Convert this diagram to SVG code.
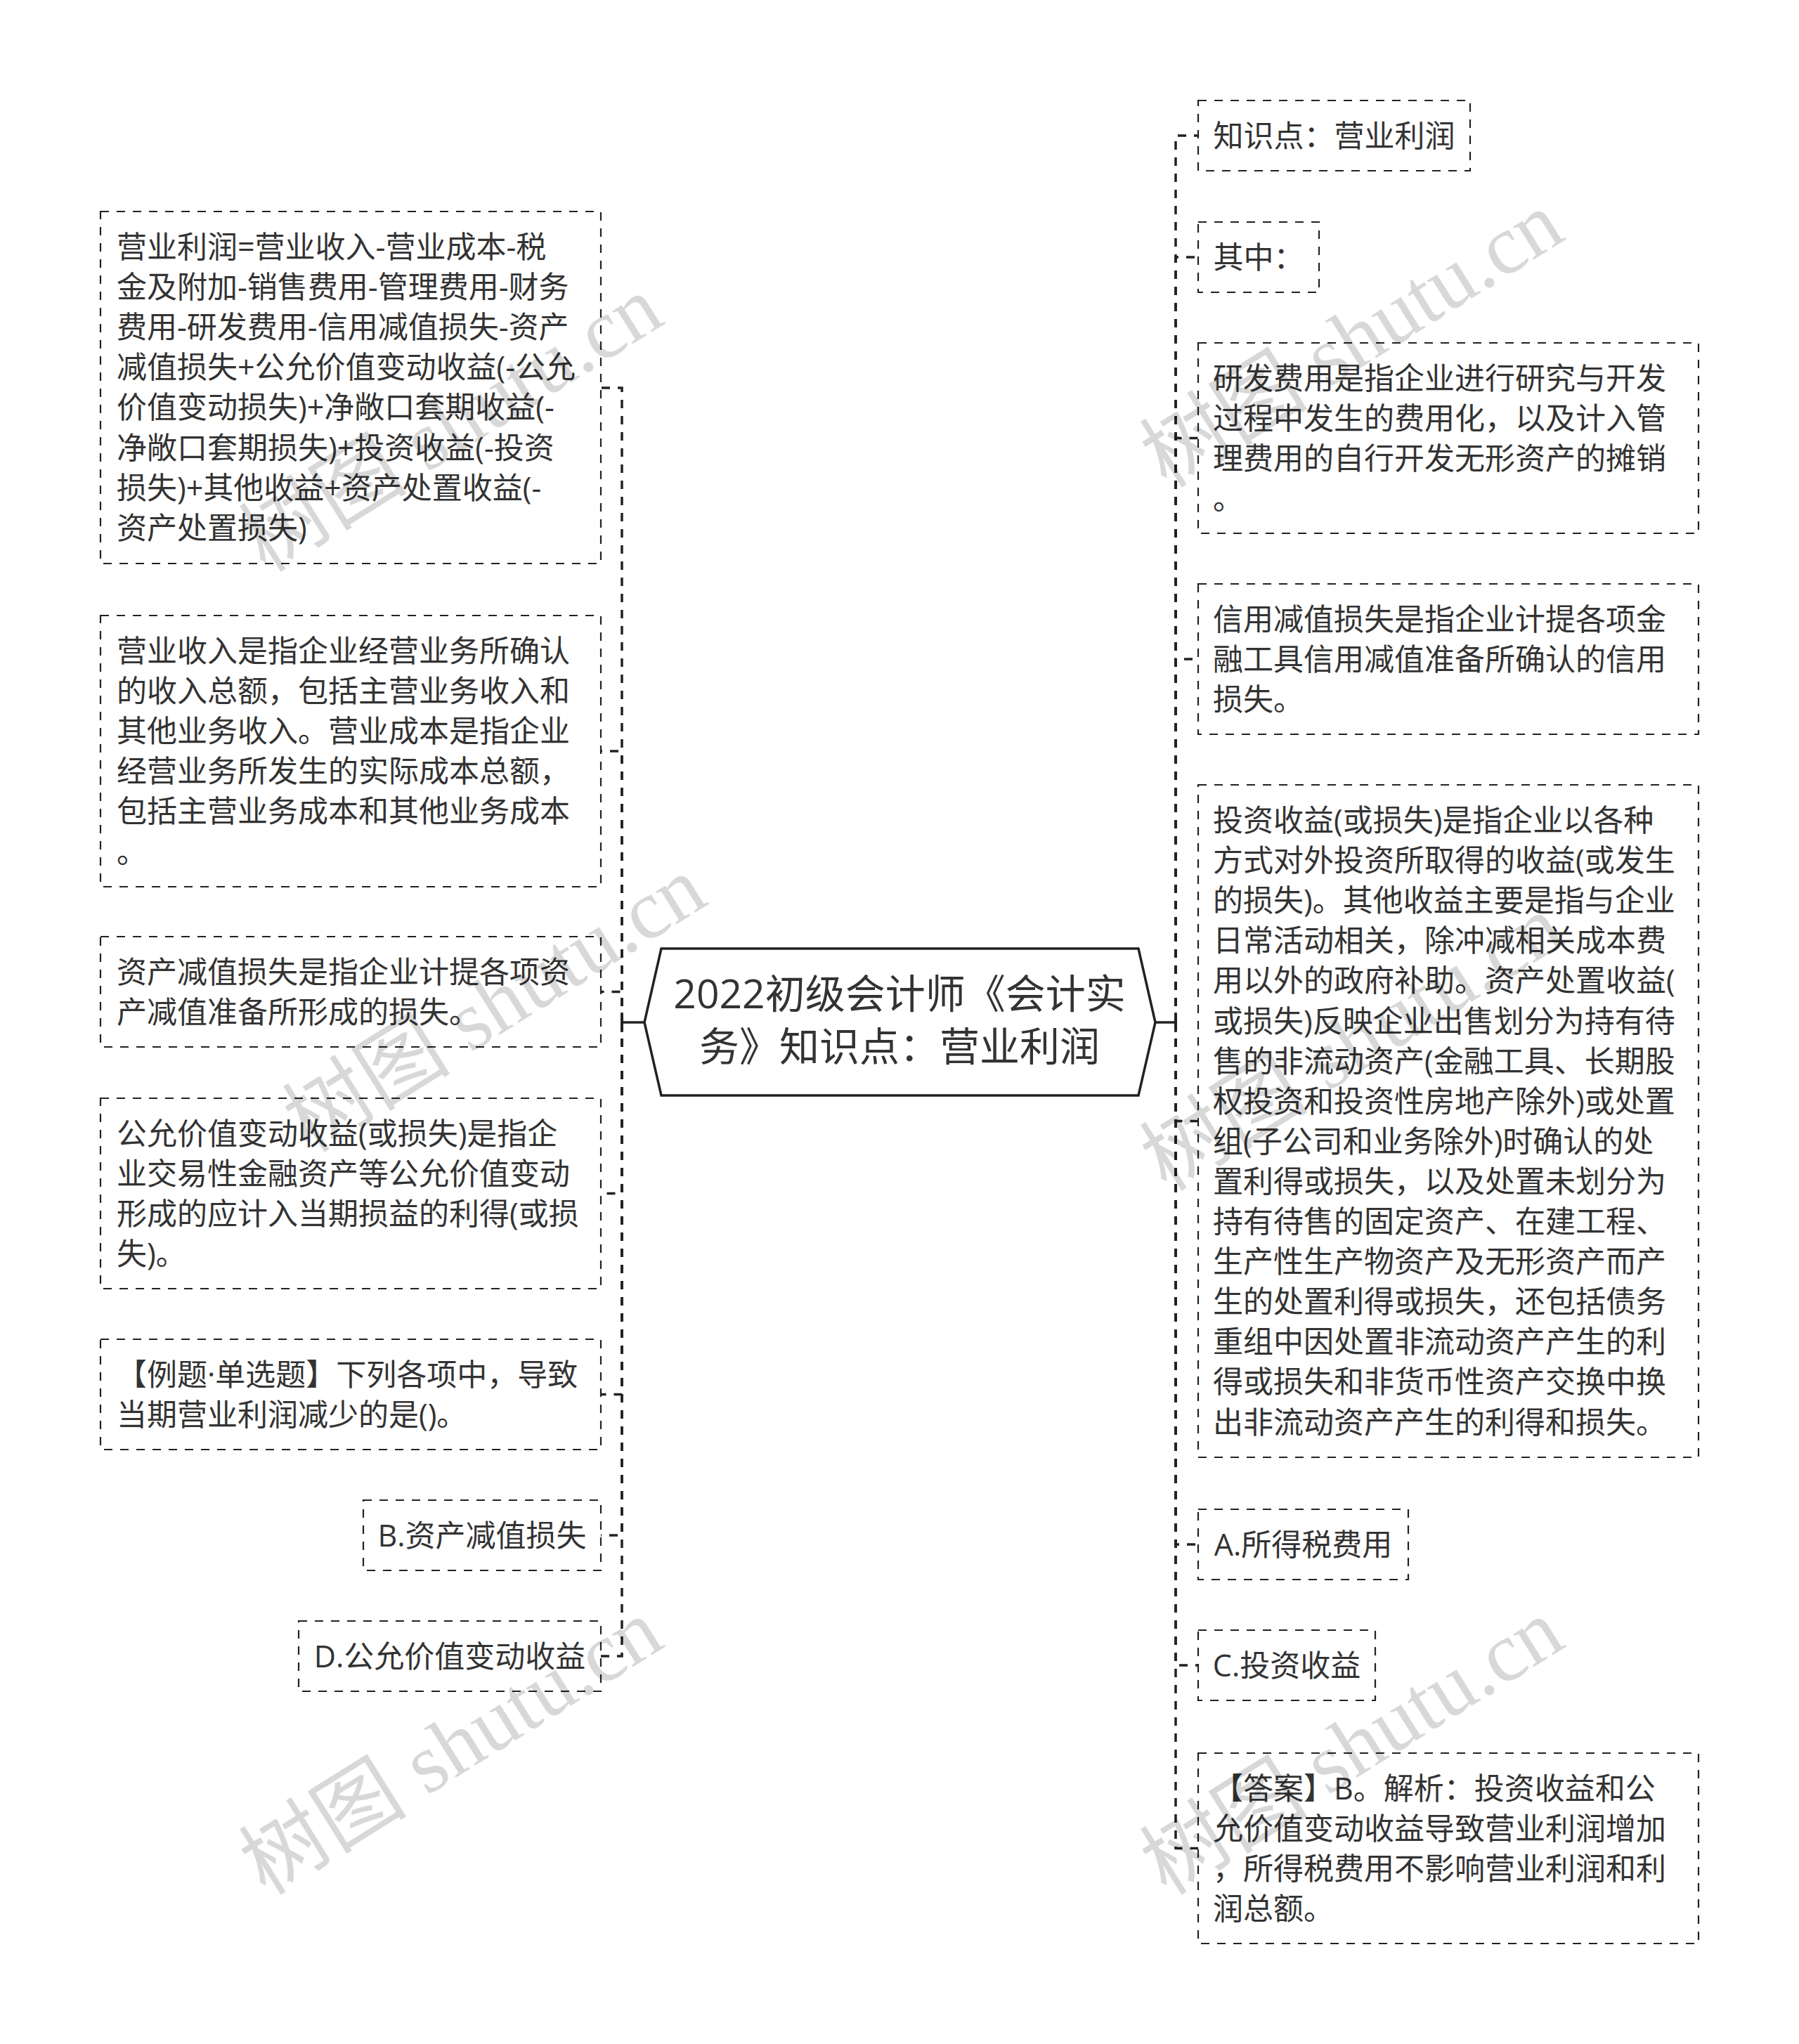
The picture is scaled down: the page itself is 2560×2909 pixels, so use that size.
<svg xmlns="http://www.w3.org/2000/svg" width="2560" height="2909" viewBox="0 0 2560 2909">
<style>
.bg{fill:#ffffff}
.box{fill:none;stroke:#222;stroke-width:2.2;stroke-dasharray:12 11}
.t{font-family:"Open Sans","Noto Sans CJK SC",sans-serif;font-size:43px;fill:#333}
.tc{font-family:"Open Sans","Noto Sans CJK SC",sans-serif;font-size:43px;fill:#333;text-anchor:middle}
.ct{font-family:"Open Sans","Noto Sans CJK SC",sans-serif;font-size:57px;fill:#333;text-anchor:middle}
.hex{fill:#fff;stroke:#222;stroke-width:3.5}
.ln{fill:none;stroke:#222;stroke-width:3.5;stroke-dasharray:12 11}
.stub{fill:none;stroke:#222;stroke-width:3.5}
.wm{font-family:"Liberation Serif","Noto Sans CJK SC",serif;font-size:120px;fill:#000;opacity:0.15}
</style>
<rect class="bg" x="0" y="0" width="2560" height="2909"/>

<g id="connectors">
<path class="stub" d="M917 1455 H885 M885 1441 V1469"/>
<path class="stub" d="M1643 1455 H1673 M1673 1441 V1469"/>
<path class="ln" d="M885 1455 V552 H855"/>
<path class="ln" d="M885 1455 V1069 H855"/>
<path class="ln" d="M885 1455 V1411.5 H855"/>
<path class="ln" d="M885 1455 V1698.5 H855"/>
<path class="ln" d="M885 1455 V1984.5 H855"/>
<path class="ln" d="M885 1455 V2185 H855"/>
<path class="ln" d="M885 1455 V2357 H855"/>
<path class="ln" d="M1673 1455 V193 H1705"/>
<path class="ln" d="M1673 1455 V366 H1705"/>
<path class="ln" d="M1673 1455 V623.5 H1705"/>
<path class="ln" d="M1673 1455 V938 H1705"/>
<path class="ln" d="M1673 1455 V1595.5 H1705"/>
<path class="ln" d="M1673 1455 V2198 H1705"/>
<path class="ln" d="M1673 1455 V2370 H1705"/>
<path class="ln" d="M1673 1455 V2630.5 H1705"/>
</g>

<g id="center">
<polygon class="hex" points="941,1350 1620,1350 1644,1455 1620,1559 941,1559 917,1455"/>
<text class="ct"><tspan x="1280" y="1435">2022初级会计师《会计实</tspan><tspan x="1280" y="1510">务》知识点：营业利润</tspan></text>
</g>

<g id="L1">
<rect class="box" x="143" y="301" width="712" height="501"/>
<text class="t"><tspan x="166" y="367">营业利润=营业收入-营业成本-税</tspan><tspan x="166" y="424.1">金及附加-销售费用-管理费用-财务</tspan><tspan x="166" y="481.2">费用-研发费用-信用减值损失-资产</tspan><tspan x="166" y="538.3">减值损失+公允价值变动收益(-公允</tspan><tspan x="166" y="595.4">价值变动损失)+净敞口套期收益(-</tspan><tspan x="166" y="652.5">净敞口套期损失)+投资收益(-投资</tspan><tspan x="166" y="709.6">损失)+其他收益+资产处置收益(-</tspan><tspan x="166" y="766.7">资产处置损失)</tspan></text>
</g>
<g id="L2">
<rect class="box" x="143" y="876" width="712" height="386"/>
<text class="t"><tspan x="166" y="942">营业收入是指企业经营业务所确认</tspan><tspan x="166" y="999.1">的收入总额，包括主营业务收入和</tspan><tspan x="166" y="1056.2">其他业务收入。营业成本是指企业</tspan><tspan x="166" y="1113.3">经营业务所发生的实际成本总额，</tspan><tspan x="166" y="1170.4">包括主营业务成本和其他业务成本</tspan><tspan x="166" y="1227.5">。</tspan></text>
</g>
<g id="L3">
<rect class="box" x="143" y="1333" width="712" height="157"/>
<text class="t"><tspan x="166" y="1399">资产减值损失是指企业计提各项资</tspan><tspan x="166" y="1456.1">产减值准备所形成的损失。</tspan></text>
</g>
<g id="L4">
<rect class="box" x="143" y="1563" width="712" height="271"/>
<text class="t"><tspan x="166" y="1629">公允价值变动收益(或损失)是指企</tspan><tspan x="166" y="1686.1">业交易性金融资产等公允价值变动</tspan><tspan x="166" y="1743.2">形成的应计入当期损益的利得(或损</tspan><tspan x="166" y="1800.3">失)。</tspan></text>
</g>
<g id="L5">
<rect class="box" x="143" y="1906" width="712" height="157"/>
<text class="t"><tspan x="166" y="1972">【例题·单选题】下列各项中，导致</tspan><tspan x="166" y="2029.1">当期营业利润减少的是()。</tspan></text>
</g>
<g id="L6">
<rect class="box" x="517" y="2135" width="338" height="100"/>
<text class="tc" x="686" y="2201">B.资产减值损失</text>
</g>
<g id="L7">
<rect class="box" x="425" y="2307" width="430" height="100"/>
<text class="tc" x="640" y="2373">D.公允价值变动收益</text>
</g>

<g id="R1">
<rect class="box" x="1705" y="143" width="387" height="100"/>
<text class="tc" x="1898.5" y="209">知识点：营业利润</text>
</g>
<g id="R2">
<rect class="box" x="1705" y="316" width="172" height="100"/>
<text class="tc" x="1791" y="382">其中：</text>
</g>
<g id="R3">
<rect class="box" x="1705" y="488" width="712" height="271"/>
<text class="t"><tspan x="1726" y="554">研发费用是指企业进行研究与开发</tspan><tspan x="1726" y="611.1">过程中发生的费用化，以及计入管</tspan><tspan x="1726" y="668.2">理费用的自行开发无形资产的摊销</tspan><tspan x="1726" y="725.3">。</tspan></text>
</g>
<g id="R4">
<rect class="box" x="1705" y="831" width="712" height="214"/>
<text class="t"><tspan x="1726" y="897">信用减值损失是指企业计提各项金</tspan><tspan x="1726" y="954.1">融工具信用减值准备所确认的信用</tspan><tspan x="1726" y="1011.2">损失。</tspan></text>
</g>
<g id="R5">
<rect class="box" x="1705" y="1117" width="712" height="957"/>
<text class="t"><tspan x="1726" y="1183">投资收益(或损失)是指企业以各种</tspan><tspan x="1726" y="1240.1">方式对外投资所取得的收益(或发生</tspan><tspan x="1726" y="1297.2">的损失)。其他收益主要是指与企业</tspan><tspan x="1726" y="1354.3">日常活动相关，除冲减相关成本费</tspan><tspan x="1726" y="1411.4">用以外的政府补助。资产处置收益(</tspan><tspan x="1726" y="1468.5">或损失)反映企业出售划分为持有待</tspan><tspan x="1726" y="1525.6">售的非流动资产(金融工具、长期股</tspan><tspan x="1726" y="1582.7">权投资和投资性房地产除外)或处置</tspan><tspan x="1726" y="1639.8">组(子公司和业务除外)时确认的处</tspan><tspan x="1726" y="1696.9">置利得或损失，以及处置未划分为</tspan><tspan x="1726" y="1754">持有待售的固定资产、在建工程、</tspan><tspan x="1726" y="1811.1">生产性生产物资产及无形资产而产</tspan><tspan x="1726" y="1868.2">生的处置利得或损失，还包括债务</tspan><tspan x="1726" y="1925.3">重组中因处置非流动资产产生的利</tspan><tspan x="1726" y="1982.4">得或损失和非货币性资产交换中换</tspan><tspan x="1726" y="2039.5">出非流动资产产生的利得和损失。</tspan></text>
</g>
<g id="R6">
<rect class="box" x="1705" y="2148" width="299" height="100"/>
<text class="tc" x="1854.5" y="2214">A.所得税费用</text>
</g>
<g id="R7">
<rect class="box" x="1705" y="2320" width="252" height="100"/>
<text class="tc" x="1831" y="2386">C.投资收益</text>
</g>
<g id="R8">
<rect class="box" x="1705" y="2495" width="712" height="271"/>
<text class="t"><tspan x="1726" y="2561">【答案】B。解析：投资收益和公</tspan><tspan x="1726" y="2618.1">允价值变动收益导致营业利润增加</tspan><tspan x="1726" y="2675.2">，所得税费用不影响营业利润和利</tspan><tspan x="1726" y="2732.3">润总额。</tspan></text>
</g>

<g id="watermark">
<text class="wm" transform="translate(378,816) rotate(-32)">树图 shutu.cn</text>
<text class="wm" transform="translate(440,1642) rotate(-32)">树图 shutu.cn</text>
<text class="wm" transform="translate(378,2699) rotate(-32)">树图 shutu.cn</text>
<text class="wm" transform="translate(1660,696) rotate(-32)">树图 shutu.cn</text>
<text class="wm" transform="translate(1660,1697) rotate(-32)">树图 shutu.cn</text>
<text class="wm" transform="translate(1660,2699) rotate(-32)">树图 shutu.cn</text>
</g>
</svg>
